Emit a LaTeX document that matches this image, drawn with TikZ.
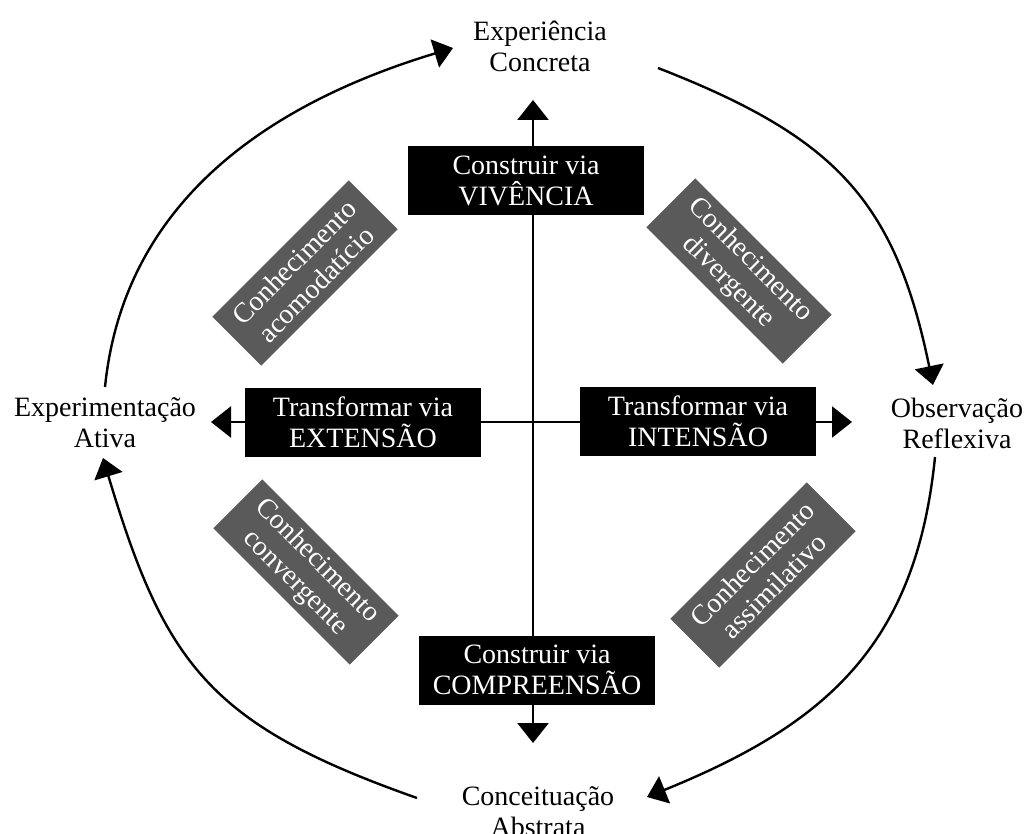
\documentclass[tikz,border=0pt]{standalone}
\usepackage{fontspec}
\setmainfont{Liberation Serif}
\usetikzlibrary{arrows.meta}
\definecolor{knowgray}{HTML}{5A5A5A}
\begin{document}
\begin{tikzpicture}[x=1pt,y=-1pt,
  every node/.style={font=\fontsize{28}{31}\selectfont},
  stage/.style={align=center, inner sep=0pt},
  blackbox/.style={fill=black, text=white, align=center, minimum width=236pt, minimum height=69pt, inner sep=0pt},
  graybox/.style={fill=knowgray, text=white, align=center, minimum width=193pt, minimum height=69pt, inner sep=0pt},
  axisarrow/.style={line width=2.6pt, -{Triangle[length=20pt,width=31pt]}},
  cyclearrow/.style={line width=2.4pt, -{Triangle[length=19pt,width=29pt]}}
]
\useasboundingbox (0,0) rectangle (1030,834);
\fill[white] (0,0) rectangle (1030,834);

% stages
\node[stage] (ec) at (540,46) {Experiência\\Concreta};
\node[stage] (ae) at (105,423) {Experimentação\\Ativa};
\node[stage] (or) at (957,423) {Observação\\Reflexiva};
\node[stage] (ca) at (538,812) {Conceituação\\Abstrata};

% axes
\coordinate (o) at (533,422);
\coordinate (vtop) at (533,100);
\coordinate (vbot) at (533,743);
\coordinate (hl) at (211,422);
\coordinate (hr) at (852,422);
\draw[axisarrow] (o) -- (vtop);
\draw[axisarrow] (o) -- (vbot);
\draw[axisarrow] (o) -- (hl);
\draw[axisarrow] (o) -- (hr);

% black boxes
\node[blackbox] (viv) at (526,181) {Construir via\\VIVÊNCIA};
\node[blackbox] (ext) at (363,422) {Transformar via\\EXTENSÃO};
\node[blackbox] (int) at (698,421) {Transformar via\\INTENSÃO};
\node[blackbox] (comp) at (537,670) {Construir via\\COMPREENSÃO};

% gray boxes
\node[graybox, rotate=45] (acom) at (305,273) {Conhecimento\\acomodatício};
\node[graybox, rotate=-45] (div) at (739,271) {Conhecimento\\divergente};
\node[graybox, rotate=-45] (conv) at (306,572) {Conhecimento\\convergente};
\node[graybox, rotate=45] (assim) at (763,575) {Conhecimento\\assimilativo};

% cycle arcs
\coordinate (c1s) at (105,387); \coordinate (c1e) at (453,48);
\coordinate (c2s) at (658,68);  \coordinate (c2e) at (933,385);
\coordinate (c3s) at (935,457); \coordinate (c3e) at (647,797);
\coordinate (c4s) at (417,798); \coordinate (c4e) at (103,458);
\draw[cyclearrow] (c1s) .. controls (124,200) and (271,103) .. (c1e);
\draw[cyclearrow] (c2s) .. controls (835,137) and (895,200) .. (c2e);
\draw[cyclearrow] (c3s) .. controls (916,647) and (824,725) .. (c3e);
\draw[cyclearrow] (c4s) .. controls (210,725) and (165,665) .. (c4e);
\end{tikzpicture}
\end{document}
